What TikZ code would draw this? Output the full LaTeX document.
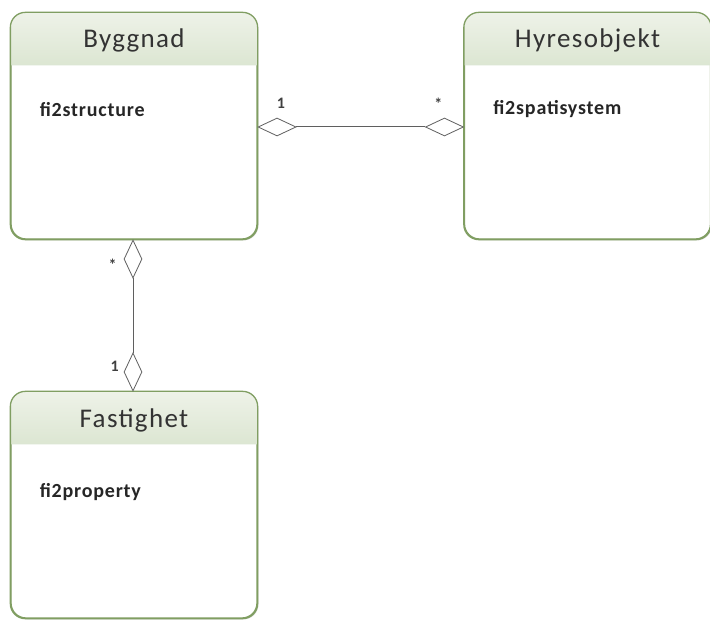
\documentclass[tikz,border=0pt]{standalone}
\usepackage{fontspec}
\setmainfont{Carlito}
\usetikzlibrary{shapes.geometric,shadows,positioning}

\definecolor{boxline}{RGB}{128,158,98}
\definecolor{headtop}{RGB}{238,242,232}
\definecolor{headbot}{RGB}{220,230,210}
\definecolor{connline}{RGB}{95,95,95}

\tikzset{
  classbox/.style={draw=boxline, line width=1.3pt, rounded corners=15pt,
    minimum width=246pt, minimum height=226pt, inner sep=0pt,
    drop shadow={shadow xshift=1.5pt, shadow yshift=-1.5pt, opacity=0.2}, fill=white},
  classname/.style={font=\fontsize{27}{30}\selectfont\addfontfeatures{LetterSpace=5}, text=black!80},
  attr/.style={font=\fontsize{20}{23}\selectfont\bfseries\addfontfeatures{LetterSpace=4}, text=black!85, anchor=west},
  agg/.style={draw=connline, fill=white, shape=diamond, inner sep=0pt, line width=0.8pt},
  hagg/.style={agg, minimum width=38pt, minimum height=18pt},
  vagg/.style={agg, minimum width=18pt, minimum height=38pt},
  conn/.style={draw=connline, line width=1pt},
  mult/.style={font=\fontsize{16}{17}\selectfont\bfseries, text=black!75, inner sep=1pt}
}

\newcommand{\classhead}[1]{%
  \shade[top color=headtop, bottom color=headbot]
    ([yshift=-53pt]#1.north west)
    {[rounded corners=15pt] -- (#1.north west) -- (#1.north east)}
    -- ([yshift=-53pt]#1.north east) -- cycle;
  \draw[boxline, line width=1.3pt, rounded corners=15pt] (#1.south west) rectangle (#1.north east);
}

\begin{document}
\begin{tikzpicture}[x=1pt,y=-1pt]
\fill[white] (0,0) rectangle (710,620);
\useasboundingbox (0,0) rectangle (710,620);

% classes
\node[classbox](byggnad) at (134,126) {};
\node[classbox](hyres) at (587.5,126) {};
\node[classbox](fastighet) at (134,505) {};

\classhead{byggnad}
\classhead{hyres}
\classhead{fastighet}

\node[classname] at ([yshift=-28pt]byggnad.north) {Byggnad};
\node[classname] at ([yshift=-28pt]hyres.north) {Hyresobjekt};
\node[classname] at ([yshift=-29pt]fastighet.north) {Fastighet};

\node[attr] at ([xshift=26pt,yshift=-97pt]byggnad.north west) {fi2structure};
\node[attr] at ([xshift=26pt,yshift=-97pt]hyres.north west) {fi2spatisystem};
\node[attr] at ([xshift=26pt,yshift=-101pt]fastighet.north west) {fi2property};

% aggregations
\node[hagg, anchor=west](d1) at ([yshift=-1pt]byggnad.east) {};
\node[hagg, anchor=east](d2) at ([yshift=-1pt]hyres.west) {};
\node[vagg, anchor=north](d3) at ([xshift=-1pt]byggnad.south) {};
\node[vagg, anchor=south](d4) at ([xshift=-1pt]fastighet.north) {};

\path[conn] (d1) -- (d2);
\path[conn] (d3) -- (d4);

\node[mult] at ([xshift=4pt,yshift=14pt]d1.north) {1};
\node[mult] at ([xshift=-6pt,yshift=14pt]d2.north) {*};
\node[mult] at ([xshift=-11pt,yshift=-6pt]d3.west) {*};
\node[mult] at ([xshift=-9pt,yshift=6pt]d4.west) {1};
\end{tikzpicture}
\end{document}
